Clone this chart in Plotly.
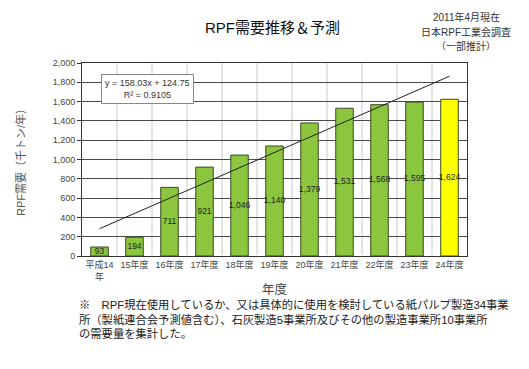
import numpy as np
import plotly.graph_objects as go

categories = ["平成14<br>年", "15年度", "16年度", "17年度", "18年度", "19年度",
              "20年度", "21年度", "22年度", "23年度", "24年度"]
demand = [93, 194, 711, 921, 1046, 1140, 1379, 1531, 1568, 1595, 1624]
bar_colors = ["#8CC63F"] * 10 + ["#FFFF00"]
y_ticks = list(range(0, 2001, 200))
source_lines = ["2011年4月現在", "日本RPF工業会調査", "（一部推計）"]

xs = np.arange(len(categories))
# least-squares trend (x = 1..11), as shown in chart: y = 158.03x + 124.75
slope, intercept = np.polyfit(xs + 1, demand, 1)
trend_x = [xs[0], xs[-1]]
trend_y = [slope * (x + 1) + intercept for x in trend_x]

FONT = "Liberation Sans, Arial, Noto Sans CJK JP, sans-serif"

# page has an 8px body margin
OFF = 8
W, H = 521, 361
pl, pr, pt, pb = 74, 62, 55, 113
pw, ph = W - pl - pr, H - pt - pb
def px(x): return (x - OFF - pl) / pw
def py(y): return (H - pb - (y - OFF)) / ph

fig = go.Figure()
fig.add_trace(go.Bar(
    x=xs, y=demand, width=0.5,
    marker=dict(color=bar_colors, line=dict(color="#3A4A20", width=1)),
    showlegend=False, hoverinfo="y",
))
fig.add_trace(go.Scatter(
    x=xs, y=[v / 2 for v in demand], mode="text",
    text=[f"{v:,}" for v in demand],
    textfont=dict(size=8.5, color="#222", family=FONT),
    showlegend=False, hoverinfo="skip",
))
fig.add_trace(go.Scatter(
    x=trend_x, y=trend_y, mode="lines",
    line=dict(color="#222", width=1), showlegend=False,
))

annotations = [
    dict(text="RPF需要推移＆予測", x=px(272), y=py(27), xref="paper", yref="paper",
         xanchor="center", yanchor="middle",
         showarrow=False, font=dict(size=15, color="#111")),
    dict(text="y = 158.03x + 124.75<br>R² = 0.9105", xref="x", yref="y",
         x=1.36, y=1730, showarrow=False, align="center",
         font=dict(size=9, color="#333"),
         bgcolor="white", bordercolor="#888", borderwidth=1, borderpad=3),
    dict(text="※　RPF現在使用しているか、又は具体的に使用を検討している紙パルプ製造34事業<br>"
              "所（製紙連合会予測値含む）、石灰製造5事業所及びその他の製造事業所10事業所<br>"
              "の需要量を集計した。",
         xref="paper", yref="paper", x=px(77), y=py(296), showarrow=False, align="left",
         xanchor="left", yanchor="top", font=dict(size=11.3, color="#222")),
]
for i, line in enumerate(source_lines):
    annotations.append(dict(text=line, xref="paper", yref="paper",
                            x=px(466), y=py(17 + 14.5 * i), xanchor="center", yanchor="middle",
                            showarrow=False, font=dict(size=10, color="#333")))

fig.update_layout(
    width=W, height=H,
    margin=dict(l=pl, r=pr, t=pt, b=pb),
    paper_bgcolor="white", plot_bgcolor="white",
    font=dict(family=FONT, color="#333"),
    xaxis=dict(
        range=[-0.5, 10.5], tickvals=list(xs), ticktext=categories,
        tickfont=dict(size=9, color="#444"), showgrid=False,
        showline=True, linecolor="#333", mirror=True, ticks="",
        title=dict(text="年度", font=dict(size=12.5, color="#444"), standoff=4),
    ),
    yaxis=dict(
        range=[0, 2000], tickvals=y_ticks, tickformat=",",
        tickfont=dict(size=9, color="#444"),
        showgrid=True, gridcolor="#4a4a4a", gridwidth=1,
        showline=True, linecolor="#333", mirror=True,
        ticks="outside", ticklen=4, tickcolor="#333",
        title=dict(text="RPF需要（千トン/年）", font=dict(size=11, color="#555"), standoff=24),
    ),
    shapes=[
        dict(type="line", xref="x", yref="paper", x0=k + 0.5, x1=k + 0.5, y0=0, y1=1,
             line=dict(color="#C8C8C8", width=1), layer="below")
        for k in range(10)
    ],
    annotations=annotations,
)

fig.write_html("out.html")
